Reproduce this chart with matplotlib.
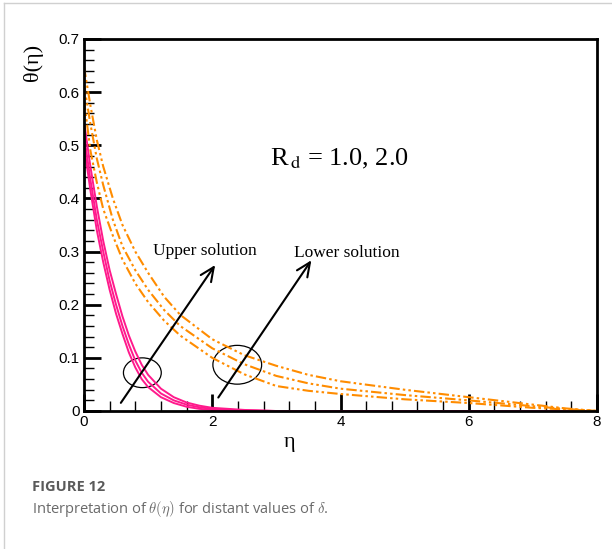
import numpy as np
import matplotlib
matplotlib.use("Agg")
import matplotlib.pyplot as plt
from matplotlib.patches import Ellipse
from matplotlib.ticker import MultipleLocator

# upper solution (solid pink), three curves
eta_up = [0, 0.1, 0.2, 0.3, 0.4, 0.5, 0.6, 0.7, 0.8, 0.9, 1.0, 1.2, 1.4, 1.6, 1.8, 2.0, 2.5, 3.0, 8.0]
up_1 = [0.545, 0.46, 0.385, 0.32, 0.265, 0.22, 0.178, 0.142, 0.112, 0.087, 0.068, 0.042, 0.026, 0.016, 0.010, 0.006, 0.002, 0, 0]
up_2 = [0.52, 0.435, 0.36, 0.30, 0.245, 0.20, 0.16, 0.125, 0.095, 0.072, 0.055, 0.033, 0.020, 0.012, 0.007, 0.004, 0.001, 0, 0]
up_3 = [0.50, 0.415, 0.34, 0.28, 0.228, 0.183, 0.145, 0.11, 0.082, 0.06, 0.045, 0.026, 0.015, 0.008, 0.004, 0.002, 0.0005, 0, 0]

# lower solution (orange dash-dot-dot), three curves
eta_lo = [0, 0.1, 0.2, 0.3, 0.45, 0.6, 0.8, 1.0, 1.25, 1.5, 2.0, 2.5, 3.0, 3.5, 4.0, 5.0, 6.0, 7.0, 7.5, 8.0]
lo_1 = [0.648, 0.575, 0.51, 0.46, 0.40, 0.35, 0.30, 0.26, 0.215, 0.181, 0.135, 0.105, 0.085, 0.068, 0.056, 0.040, 0.026, 0.012, 0.005, 0]
lo_2 = [0.615, 0.54, 0.475, 0.425, 0.36, 0.31, 0.265, 0.228, 0.19, 0.16, 0.118, 0.088, 0.066, 0.052, 0.042, 0.030, 0.020, 0.009, 0.004, 0]
lo_3 = [0.585, 0.49, 0.43, 0.38, 0.33, 0.285, 0.24, 0.205, 0.17, 0.142, 0.10, 0.069, 0.047, 0.038, 0.032, 0.022, 0.015, 0.006, 0.003, 0]

xticks = [0, 2, 4, 6, 8]
yticks = [0, 0.1, 0.2, 0.3, 0.4, 0.5, 0.6, 0.7]
ytick_labels = ["0", "0.1", "0.2", "0.3", "0.4", "0.5", "0.6", "0.7"]

pink = "#ff1a8c"
orange = "#ff8c00"
serif = "Liberation Serif"
sans = "Liberation Sans"

fig = plt.figure(figsize=(6.12, 5.49), dpi=100)
ax = fig.add_axes([84/612, 1-411/549, (597-84)/612, (411-39)/549])

for y in (up_1, up_2, up_3):
    ax.plot(eta_up, y, color=pink, lw=1.4, solid_joinstyle="round")
for y in (lo_1, lo_2, lo_3):
    ax.plot(eta_lo, y, color=orange, lw=1.5, linestyle=(0, (5, 1.5, 1.2, 1.5, 1.2, 1.5)))

ax.add_patch(Ellipse((0.91, 0.072), 0.59, 0.056, fill=False, color="black", lw=0.9))
ax.add_patch(Ellipse((2.39, 0.087), 0.76, 0.073, fill=False, color="black", lw=0.9))

arrow = dict(arrowstyle="->,head_length=1.0,head_width=0.45", color="black", lw=1.5)
ax.annotate("", xy=(2.07, 0.279), xytext=(0.55, 0.011), arrowprops=arrow)
ax.annotate("", xy=(3.57, 0.288), xytext=(2.07, 0.021), arrowprops=arrow)

ax.text(1.08, 0.301, "Upper solution", family=serif, fontsize=12.5, va="center", ha="left")
ax.text(3.27, 0.298, "Lower solution", family=serif, fontsize=12.5, va="center", ha="left")
ax.text(2.9, 0.475, r"R$_{\rm\,d}$ = 1.0, 2.0", family=serif, fontsize=19,
        va="center", ha="left", math_fontfamily="stix")

ax.set_xlim(0, 8)
ax.set_ylim(0, 0.7)
ax.set_xticks(xticks)
ax.set_xticklabels([str(t) for t in xticks], family=sans, fontsize=11)
ax.set_yticks(yticks)
ax.set_yticklabels(ytick_labels, family=sans, fontsize=11)
ax.xaxis.set_minor_locator(MultipleLocator(0.4))
ax.yaxis.set_minor_locator(MultipleLocator(0.02))
ax.tick_params(which="both", direction="in", top=False, right=False, color="black")
ax.tick_params(which="major", length=12, width=2, pad=3)
ax.tick_params(which="minor", length=7, width=1)
for s in ax.spines.values():
    s.set_linewidth(2)

fig.text(290/612, 1-442/549, "η", family=serif, fontsize=16, ha="center", va="center")
fig.text(33/612, 1-62/549, "θ(η)", family=serif, fontsize=16, ha="center", va="center", rotation=90)

fig.text(32/612, 1-487/549, "FIGURE 12", family="Open Sans", fontweight="bold", fontsize=10.5,
         color="#5a5a5a", ha="left", va="center")
fig.text(32/612, 1-509/549, r"Interpretation of $\theta(\eta)$ for distant values of $\delta$.",
         family="Open Sans", fontsize=10.5, color="#6a6a6a", ha="left", va="center",
         math_fontfamily="cm")

# light frame of the page
fig.add_artist(plt.Line2D([4/612, 4/612], [0, 1-3/549], color="#d0d0d0", lw=1))
fig.add_artist(plt.Line2D([4/612, 1], [1-3/549, 1-3/549], color="#d0d0d0", lw=1))

fig.savefig("out.png", dpi=100)
